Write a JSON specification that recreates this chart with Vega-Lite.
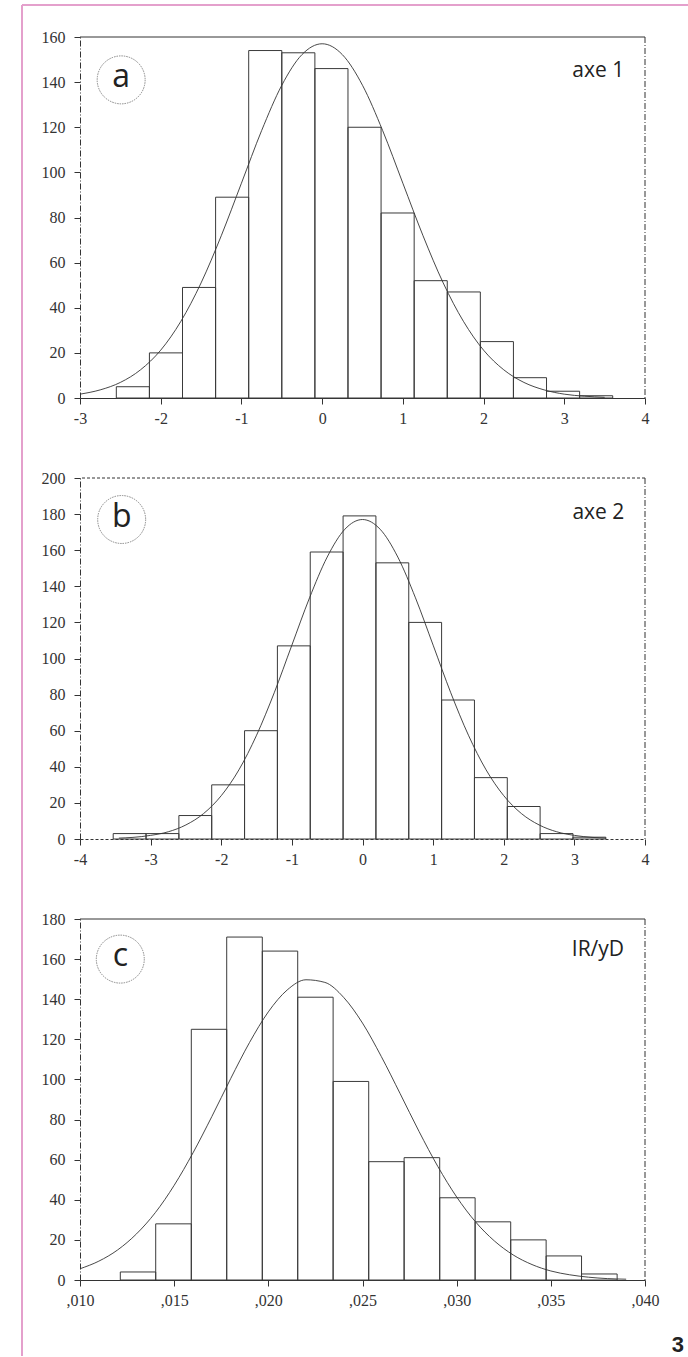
{
  "$schema": "https://vega.github.io/schema/vega-lite/v6.json",
  "background": "white",
  "padding": {"left": 20, "top": 4, "right": 0, "bottom": 0},
  "bounds": "flush",
  "spacing": 80,
  "config": {
    "view": {"stroke": null},
    "axis": {"labelFont": "Liberation Serif", "labelFontSize": 16, "labelColor": "#333", "domainColor": "#333", "tickColor": "#333", "grid": false, "title": null, "tickSize": 6, "labelPadding": 6, "domainWidth": 1, "tickWidth": 1, "labelFlush": false, "labelOverlap": false, "labelBound": false, "tickCount": 30},
    "axisY": {"labelPadding": 9}
  },
  "datasets": {
    "barsA": [
      {"start": -2.55, "end": -2.14, "count": 5},
      {"start": -2.14, "end": -1.73, "count": 20},
      {"start": -1.73, "end": -1.32, "count": 49},
      {"start": -1.32, "end": -0.91, "count": 89},
      {"start": -0.91, "end": -0.50, "count": 154},
      {"start": -0.50, "end": -0.09, "count": 153},
      {"start": -0.09, "end": 0.32, "count": 146},
      {"start": 0.32, "end": 0.73, "count": 120},
      {"start": 0.73, "end": 1.14, "count": 82},
      {"start": 1.14, "end": 1.55, "count": 52},
      {"start": 1.55, "end": 1.96, "count": 47},
      {"start": 1.96, "end": 2.37, "count": 25},
      {"start": 2.37, "end": 2.78, "count": 9},
      {"start": 2.78, "end": 3.19, "count": 3},
      {"start": 3.19, "end": 3.60, "count": 1}
    ],
    "curveA": [
      {"x": -3.0, "y": 1.7}, {"x": -2.75, "y": 3.6}, {"x": -2.5, "y": 6.9}, {"x": -2.25, "y": 12.5},
      {"x": -2.0, "y": 21.2}, {"x": -1.75, "y": 34.0}, {"x": -1.5, "y": 51.0}, {"x": -1.25, "y": 71.9},
      {"x": -1.0, "y": 95.2}, {"x": -0.75, "y": 118.5}, {"x": -0.5, "y": 138.6}, {"x": -0.25, "y": 152.2},
      {"x": 0.0, "y": 157.0}, {"x": 0.25, "y": 152.2}, {"x": 0.5, "y": 138.6}, {"x": 0.75, "y": 118.5},
      {"x": 1.0, "y": 95.2}, {"x": 1.25, "y": 71.9}, {"x": 1.5, "y": 51.0}, {"x": 1.75, "y": 34.0},
      {"x": 2.0, "y": 21.2}, {"x": 2.25, "y": 12.5}, {"x": 2.5, "y": 6.9}, {"x": 2.75, "y": 3.6},
      {"x": 3.0, "y": 1.7}, {"x": 3.25, "y": 0.8}, {"x": 3.5, "y": 0.3}
    ],
    "barsB": [
      {"start": -3.53, "end": -3.065, "count": 3},
      {"start": -3.065, "end": -2.6, "count": 3},
      {"start": -2.6, "end": -2.135, "count": 13},
      {"start": -2.135, "end": -1.67, "count": 30},
      {"start": -1.67, "end": -1.205, "count": 60},
      {"start": -1.205, "end": -0.74, "count": 107},
      {"start": -0.74, "end": -0.275, "count": 159},
      {"start": -0.275, "end": 0.19, "count": 179},
      {"start": 0.19, "end": 0.655, "count": 153},
      {"start": 0.655, "end": 1.12, "count": 120},
      {"start": 1.12, "end": 1.585, "count": 77},
      {"start": 1.585, "end": 2.05, "count": 34},
      {"start": 2.05, "end": 2.515, "count": 18},
      {"start": 2.515, "end": 2.98, "count": 3},
      {"start": 2.98, "end": 3.445, "count": 1}
    ],
    "curveB": [
      {"x": -3.45, "y": 0.5}, {"x": -3.25, "y": 0.9}, {"x": -3.0, "y": 2.0}, {"x": -2.75, "y": 4.0},
      {"x": -2.5, "y": 7.8}, {"x": -2.25, "y": 14.1}, {"x": -2.0, "y": 24.0}, {"x": -1.75, "y": 38.3},
      {"x": -1.5, "y": 57.5}, {"x": -1.25, "y": 81.0}, {"x": -1.0, "y": 107.4}, {"x": -0.75, "y": 133.6},
      {"x": -0.5, "y": 156.2}, {"x": -0.25, "y": 171.6}, {"x": 0.0, "y": 177.0}, {"x": 0.25, "y": 171.6},
      {"x": 0.5, "y": 156.2}, {"x": 0.75, "y": 133.6}, {"x": 1.0, "y": 107.4}, {"x": 1.25, "y": 81.0},
      {"x": 1.5, "y": 57.5}, {"x": 1.75, "y": 38.3}, {"x": 2.0, "y": 24.0}, {"x": 2.25, "y": 14.1},
      {"x": 2.5, "y": 7.8}, {"x": 2.75, "y": 4.0}, {"x": 3.0, "y": 2.0}, {"x": 3.25, "y": 0.9}, {"x": 3.45, "y": 0.5}
    ],
    "barsC": [
      {"start": 0.01214, "end": 0.01402, "count": 4},
      {"start": 0.01402, "end": 0.01591, "count": 28},
      {"start": 0.01591, "end": 0.01779, "count": 125},
      {"start": 0.01779, "end": 0.01968, "count": 171},
      {"start": 0.01968, "end": 0.02156, "count": 164},
      {"start": 0.02156, "end": 0.02344, "count": 141},
      {"start": 0.02344, "end": 0.02533, "count": 99},
      {"start": 0.02533, "end": 0.02721, "count": 59},
      {"start": 0.02721, "end": 0.02910, "count": 61},
      {"start": 0.02910, "end": 0.03098, "count": 41},
      {"start": 0.03098, "end": 0.03287, "count": 29},
      {"start": 0.03287, "end": 0.03475, "count": 20},
      {"start": 0.03475, "end": 0.03663, "count": 12},
      {"start": 0.03663, "end": 0.03852, "count": 3}
    ],
    "curveC": [
      {"x": 0.010, "y": 5.6}, {"x": 0.011, "y": 9.4}, {"x": 0.012, "y": 15.0}, {"x": 0.013, "y": 23.0},
      {"x": 0.014, "y": 33.6}, {"x": 0.015, "y": 47.2}, {"x": 0.016, "y": 63.4}, {"x": 0.017, "y": 81.5},
      {"x": 0.018, "y": 100.4}, {"x": 0.019, "y": 118.4}, {"x": 0.020, "y": 133.7}, {"x": 0.021, "y": 144.6},
      {"x": 0.022, "y": 149.7}, {"x": 0.023, "y": 148.4}, {"x": 0.024, "y": 140.9}, {"x": 0.025, "y": 128.1},
      {"x": 0.026, "y": 111.4}, {"x": 0.027, "y": 92.9}, {"x": 0.028, "y": 74.1}, {"x": 0.029, "y": 56.6},
      {"x": 0.030, "y": 41.4}, {"x": 0.031, "y": 29.0}, {"x": 0.032, "y": 19.5}, {"x": 0.033, "y": 12.5},
      {"x": 0.034, "y": 7.7}, {"x": 0.035, "y": 4.5}, {"x": 0.036, "y": 2.6}, {"x": 0.037, "y": 1.4},
      {"x": 0.038, "y": 0.7}, {"x": 0.039, "y": 0.4}
    ],
    "annA": [{"letter": "a", "name": "axe 1"}],
    "annB": [{"letter": "b", "name": "axe 2"}],
    "annC": [{"letter": "c", "name": "IR/yD", "page": "3"}]
  },
  "vconcat": [
    {
      "width": 565, "height": 361,
      "layer": [
        {
          "data": {"name": "barsA"},
          "mark": {"type": "rect", "filled": false, "stroke": "#3a3a3a", "strokeWidth": 1},
          "encoding": {
            "x": {"field": "start", "type": "quantitative", "scale": {"domain": [-3, 4], "nice": false, "zero": false},
                  "axis": {"values": [-3, -2, -1, 0, 1, 2, 3, 4], "labelExpr": "datum.value + ''", "labelOverlap": false, "tickCount": 30}},
            "x2": {"field": "end"},
            "y": {"field": "count", "type": "quantitative", "scale": {"domain": [0, 160], "nice": false},
                  "axis": {"values": [0, 20, 40, 60, 80, 100, 120, 140, 160], "domainDash": [6, 2, 1, 2], "labelOverlap": false, "tickCount": 30}},
            "y2": {"datum": 0}
          }
        },
        {
          "data": {"name": "curveA"},
          "mark": {"type": "line", "interpolate": "monotone", "stroke": "#333", "strokeWidth": 0.9},
          "encoding": {"x": {"field": "x", "type": "quantitative"}, "y": {"field": "y", "type": "quantitative"}}
        },
        {"data": {"values": [{}]}, "mark": {"type": "rule", "stroke": "#333", "strokeWidth": 1}, "encoding": {"y": {"datum": 160}}},
        {"data": {"values": [{}]}, "mark": {"type": "rule", "stroke": "#333", "strokeWidth": 1, "strokeDash": [6, 2, 1, 2]}, "encoding": {"x": {"datum": 4}}},
        {"data": {"values": [{}]}, "mark": {"type": "rule", "stroke": "#e4a0cc", "strokeWidth": 2}, "encoding": {"x": {"datum": -3.7186}, "x2": {"datum": 4.545}, "y": {"datum": 174.18}}},
        {"data": {"values": [{}]}, "mark": {"type": "rule", "stroke": "#e4a0cc", "strokeWidth": 2}, "encoding": {"x": {"datum": -3.7186}, "y": {"datum": 174.18}, "y2": {"datum": -424.6}}},
        {
          "data": {"name": "annA"},
          "layer": [
            {"mark": {"type": "point", "shape": "circle", "size": 2300, "filled": false, "stroke": "#444", "strokeWidth": 0.9, "strokeDash": [1.5, 1]},
             "encoding": {"x": {"datum": -2.49}, "y": {"datum": 141}}},
            {"mark": {"type": "text", "font": "Open Sans", "fontSize": 32, "color": "#222", "align": "center", "baseline": "middle", "dy": -3},
             "encoding": {"x": {"datum": -2.49}, "y": {"datum": 141}, "text": {"field": "letter"}}},
            {"mark": {"type": "text", "font": "Open Sans", "fontSize": 21, "color": "#222", "align": "center", "baseline": "middle"},
             "encoding": {"x": {"datum": 3.42}, "y": {"datum": 145}, "text": {"field": "name"}}}
          ]
        }
      ]
    },
    {
      "width": 565, "height": 361,
      "layer": [
        {
          "data": {"name": "barsB"},
          "mark": {"type": "rect", "filled": false, "stroke": "#3a3a3a", "strokeWidth": 1},
          "encoding": {
            "x": {"field": "start", "type": "quantitative", "scale": {"domain": [-4, 4], "nice": false, "zero": false},
                  "axis": {"values": [-4, -3, -2, -1, 0, 1, 2, 3, 4], "labelExpr": "datum.value + ''", "domainDash": [3, 2], "labelOverlap": false, "tickCount": 30}},
            "x2": {"field": "end"},
            "y": {"field": "count", "type": "quantitative", "scale": {"domain": [0, 200], "nice": false},
                  "axis": {"values": [0, 20, 40, 60, 80, 100, 120, 140, 160, 180, 200], "domainDash": [6, 2, 1, 2], "labelOverlap": false, "tickCount": 30}},
            "y2": {"datum": 0}
          }
        },
        {
          "data": {"name": "curveB"},
          "mark": {"type": "line", "interpolate": "monotone", "stroke": "#333", "strokeWidth": 0.9},
          "encoding": {"x": {"field": "x", "type": "quantitative"}, "y": {"field": "y", "type": "quantitative"}}
        },
        {"data": {"values": [{}]}, "mark": {"type": "rule", "stroke": "#333", "strokeWidth": 1, "strokeDash": [3, 2]}, "encoding": {"y": {"datum": 200}}},
        {"data": {"values": [{}]}, "mark": {"type": "rule", "stroke": "#333", "strokeWidth": 1, "strokeDash": [6, 2, 1, 2]}, "encoding": {"x": {"datum": 4}}},
        {
          "data": {"name": "annB"},
          "layer": [
            {"mark": {"type": "point", "shape": "circle", "size": 2300, "filled": false, "stroke": "#444", "strokeWidth": 0.9, "strokeDash": [1.5, 1]},
             "encoding": {"x": {"datum": -3.41}, "y": {"datum": 177}}},
            {"mark": {"type": "text", "font": "Open Sans", "fontSize": 32, "color": "#222", "align": "center", "baseline": "middle", "dy": -3},
             "encoding": {"x": {"datum": -3.41}, "y": {"datum": 177}, "text": {"field": "letter"}}},
            {"mark": {"type": "text", "font": "Open Sans", "fontSize": 21, "color": "#222", "align": "center", "baseline": "middle"},
             "encoding": {"x": {"datum": 3.34}, "y": {"datum": 180.7}, "text": {"field": "name"}}}
          ]
        }
      ]
    },
    {
      "width": 565, "height": 361,
      "layer": [
        {
          "data": {"name": "barsC"},
          "mark": {"type": "rect", "filled": false, "stroke": "#3a3a3a", "strokeWidth": 1},
          "encoding": {
            "x": {"field": "start", "type": "quantitative", "scale": {"domain": [0.010, 0.040], "nice": false, "zero": false},
                  "axis": {"values": [0.010, 0.015, 0.020, 0.025, 0.030, 0.035, 0.040], "labelExpr": "replace(format(datum.value, '.3f'), '0.', ',')", "labelOverlap": false, "tickCount": 30}},
            "x2": {"field": "end"},
            "y": {"field": "count", "type": "quantitative", "scale": {"domain": [0, 180], "nice": false},
                  "axis": {"values": [0, 20, 40, 60, 80, 100, 120, 140, 160, 180], "domainDash": [6, 2, 1, 2], "labelOverlap": false, "tickCount": 30}},
            "y2": {"datum": 0}
          }
        },
        {
          "data": {"name": "curveC"},
          "mark": {"type": "line", "interpolate": "monotone", "stroke": "#333", "strokeWidth": 0.9},
          "encoding": {"x": {"field": "x", "type": "quantitative"}, "y": {"field": "y", "type": "quantitative"}}
        },
        {"data": {"values": [{}]}, "mark": {"type": "rule", "stroke": "#333", "strokeWidth": 1}, "encoding": {"y": {"datum": 180}}},
        {"data": {"values": [{}]}, "mark": {"type": "rule", "stroke": "#333", "strokeWidth": 1, "strokeDash": [6, 2, 1, 2]}, "encoding": {"x": {"datum": 0.040}}},
        {
          "data": {"name": "annC"},
          "layer": [
            {"mark": {"type": "point", "shape": "circle", "size": 2300, "filled": false, "stroke": "#444", "strokeWidth": 0.9, "strokeDash": [1.5, 1]},
             "encoding": {"x": {"datum": 0.01214}, "y": {"datum": 160}}},
            {"mark": {"type": "text", "font": "Open Sans", "fontSize": 32, "color": "#222", "align": "center", "baseline": "middle", "dy": -3},
             "encoding": {"x": {"datum": 0.01214}, "y": {"datum": 160}, "text": {"field": "letter"}}},
            {"mark": {"type": "text", "font": "Open Sans", "fontSize": 21, "color": "#222", "align": "center", "baseline": "middle"},
             "encoding": {"x": {"datum": 0.0375}, "y": {"datum": 164.5}, "text": {"field": "name"}}},
            {"mark": {"type": "text", "font": "Liberation Sans", "fontSize": 22, "fontWeight": "bold", "color": "#222", "align": "center", "baseline": "middle"},
             "encoding": {"x": {"datum": 0.04175}, "y": {"datum": -32.2}, "text": {"field": "page"}}}
          ]
        }
      ]
    }
  ]
}
